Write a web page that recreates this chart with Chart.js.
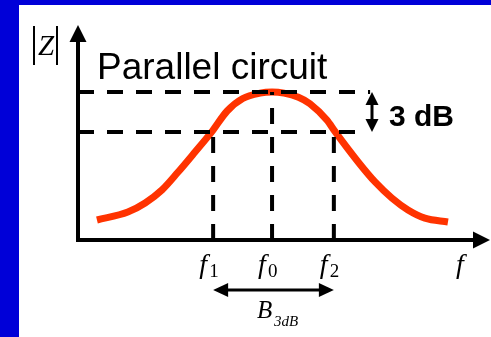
<!DOCTYPE html>
<html>
<head>
<meta charset="utf-8">
<script src="https://cdn.jsdelivr.net/npm/chart.js@4.4.1/dist/chart.umd.min.js"></script>
<style>
  html, body { margin: 0; padding: 0; background: #0000d8; }
  canvas { display: block; }
</style>
</head>
<body>
<canvas id="myChart" width="491" height="337"></canvas>
<script>
// data block (arbitrary units, axes run 0..100)
const curveX = [4.6, 12.1, 16.3, 20.4, 24.3, 28.4, 32.5, 36.2, 40.0, 44.2, 47.1, 50.0, 53.5, 56.3, 60.4, 62.4, 68.0, 72.1, 76.2, 80.1, 84.2, 89.8];
const curveY = [9.3, 13.0, 17.2, 23.3, 31.6, 40.9, 50.4, 60.0, 65.8, 68.3, 68.8, 68.3, 66.4, 63.4, 55.8, 50.4, 36.3, 27.0, 19.5, 14.0, 10.2, 8.4];

const tickVals = [32.8, 47.1, 62.1];      // f1, f0, f2
const tickSubs = ['1', '0', '2'];
const peakLevel = 68.8;
const halfLevel = 50.2;
const topLineEnd = 70.9;
const lowLineEnd = 67.7;

const title = 'Parallel circuit';
const dbLabel = '3 dB';

const black = '#000000';
const red = '#ff3300';

const dashed = (pts) => ({
    data: pts,
    borderColor: black,
    borderWidth: 4,
    borderDash: [16, 13],
    pointRadius: 0,
    tension: 0
});

const data = {
    datasets: [
        dashed([{x: 0, y: peakLevel}, {x: topLineEnd, y: peakLevel}]),
        dashed([{x: 0, y: halfLevel}, {x: lowLineEnd, y: halfLevel}]),
        dashed([{x: tickVals[0], y: 0}, {x: tickVals[0], y: halfLevel}]),
        dashed([{x: tickVals[1], y: 0}, {x: tickVals[1], y: peakLevel}]),
        dashed([{x: tickVals[2], y: 0}, {x: tickVals[2], y: halfLevel}]),
        {
            data: curveX.map((x, i) => ({x: x, y: curveY[i]})),
            borderColor: red,
            borderWidth: 7,
            pointRadius: 0,
            cubicInterpolationMode: 'monotone'
        }
    ]
};

function arrowHead(ctx, x, y, dir, len, half) {
    // dir: 'up', 'down', 'left', 'right' ; (x,y) is the tip
    ctx.beginPath();
    ctx.moveTo(x, y);
    if (dir === 'up') { ctx.lineTo(x - half, y + len); ctx.lineTo(x + half, y + len); }
    if (dir === 'down') { ctx.lineTo(x - half, y - len); ctx.lineTo(x + half, y - len); }
    if (dir === 'left') { ctx.lineTo(x + len, y - half); ctx.lineTo(x + len, y + half); }
    if (dir === 'right') { ctx.lineTo(x - len, y - half); ctx.lineTo(x - len, y + half); }
    ctx.closePath();
    ctx.fill();
}

const decor = {
    id: 'decor',
    beforeDraw(chart) {
        const ctx = chart.ctx;
        ctx.save();
        ctx.fillStyle = '#0000d8';
        ctx.fillRect(0, 0, chart.width, chart.height);
        ctx.fillStyle = '#ffffff';
        ctx.fillRect(19, 5, chart.width - 19, chart.height - 5);
        ctx.restore();
    },
    beforeDatasetsDraw(chart) {
        const ctx = chart.ctx;
        const xs = chart.scales.x, ys = chart.scales.y;
        const x0 = xs.getPixelForValue(0), y0 = ys.getPixelForValue(0);
        const yTop = ys.getPixelForValue(100), xEnd = xs.getPixelForValue(100);
        ctx.save();
        ctx.strokeStyle = black;
        ctx.fillStyle = black;
        ctx.lineWidth = 4;
        ctx.lineCap = 'square';
        ctx.beginPath();
        ctx.moveTo(x0, yTop + 14);
        ctx.lineTo(x0, y0);
        ctx.lineTo(xEnd - 14, y0);
        ctx.stroke();
        arrowHead(ctx, x0, yTop, 'up', 17, 8.5);
        arrowHead(ctx, xEnd, y0, 'right', 17, 8.5);
        ctx.restore();
    },
    afterDraw(chart) {
        const ctx = chart.ctx;
        const xs = chart.scales.x, ys = chart.scales.y;
        const y0 = ys.getPixelForValue(0);
        ctx.save();
        ctx.fillStyle = black;
        ctx.strokeStyle = black;

        // |Z| label
        ctx.lineWidth = 2;
        ctx.beginPath();
        ctx.moveTo(34, 26); ctx.lineTo(34, 65);
        ctx.moveTo(57, 26); ctx.lineTo(57, 65);
        ctx.stroke();
        ctx.font = 'italic 29px "Liberation Serif"';
        ctx.textAlign = 'center';
        ctx.textBaseline = 'alphabetic';
        ctx.fillText('Z', 46, 55);

        // title
        ctx.font = '37px "Liberation Sans"';
        ctx.textAlign = 'left';
        ctx.fillText(title, 97, 79);

        // 3 dB arrow and label
        const ax = 372;
        const yP = ys.getPixelForValue(peakLevel), yH = ys.getPixelForValue(halfLevel);
        ctx.lineWidth = 3;
        ctx.beginPath();
        ctx.moveTo(ax, yP + 8); ctx.lineTo(ax, yH - 8);
        ctx.stroke();
        arrowHead(ctx, ax, yP, 'up', 13, 6.5);
        arrowHead(ctx, ax, yH, 'down', 13, 6.5);
        ctx.font = 'bold 30px "Liberation Sans"';
        ctx.fillText(dbLabel, 389, 126);

        // tick labels f1 f0 f2
        tickVals.forEach((v, i) => {
            const px = xs.getPixelForValue(v) - 14;
            ctx.font = 'italic 28px "Liberation Serif"';
            ctx.textAlign = 'left';
            ctx.fillText('f', px, y0 + 33);
            ctx.font = '19px "Liberation Serif"';
            ctx.fillText(tickSubs[i], px + 10, y0 + 37);
        });
        ctx.font = 'italic 28px "Liberation Serif"';
        ctx.fillText('f', 456, y0 + 33);

        // bandwidth arrow
        const bx1 = xs.getPixelForValue(tickVals[0]), bx2 = xs.getPixelForValue(tickVals[2]);
        const by = y0 + 50;
        ctx.lineWidth = 3;
        ctx.beginPath();
        ctx.moveTo(bx1 + 10, by); ctx.lineTo(bx2 - 10, by);
        ctx.stroke();
        arrowHead(ctx, bx1, by, 'left', 15, 7);
        arrowHead(ctx, bx2, by, 'right', 15, 7);
        ctx.font = 'italic 25px "Liberation Serif"';
        ctx.fillText('B', 257, y0 + 78);
        ctx.font = 'italic 15px "Liberation Serif"';
        ctx.fillText('3dB', 274, y0 + 86);
        ctx.restore();
    }
};

// config block
const config = {
    type: 'line',
    data: data,
    options: {
        responsive: false,
        animation: false,
        layout: { padding: { left: 78, right: 1, top: 25, bottom: 97 } },
        scales: {
            x: { type: 'linear', min: 0, max: 100, display: false },
            y: { min: 0, max: 100, display: false }
        },
        plugins: {
            legend: { display: false },
            tooltip: { enabled: false }
        }
    },
    plugins: [decor]
};

// init render block
const myChart = new Chart(
    document.getElementById('myChart'),
    config
);
</script>
</body>
</html>
